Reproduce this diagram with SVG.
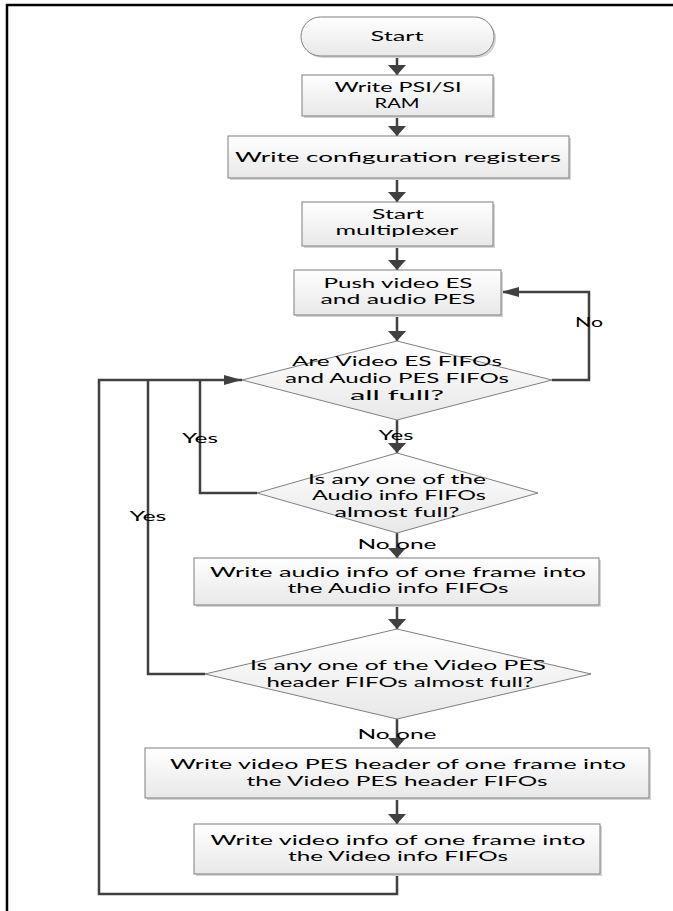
<svg xmlns="http://www.w3.org/2000/svg" width="673" height="911" viewBox="0 0 673 911">
  <defs>
    <linearGradient id="fillGrad" x1="0" y1="0" x2="0" y2="1">
      <stop offset="0" stop-color="#ffffff"/>
      <stop offset="1" stop-color="#e8e8e8"/>
    </linearGradient>
    <!-- arrowhead for vertical runs: short along the line, wide across it -->
    <marker id="arrowV" viewBox="0 0 10 18" refX="10" refY="9" markerWidth="10" markerHeight="18" markerUnits="userSpaceOnUse" orient="auto">
      <path d="M0,0 L10,9 L0,18 Z" fill="#404040"/>
    </marker>
    <!-- arrowhead for horizontal runs: long along the line, narrow across it -->
    <marker id="arrowH" viewBox="0 0 18 10" refX="18" refY="5" markerWidth="18" markerHeight="10" markerUnits="userSpaceOnUse" orient="auto">
      <path d="M0,0 L18,5 L0,10 Z" fill="#404040"/>
    </marker>
  </defs>
  <style>
    .frame { fill: none; stroke: #000000; stroke-width: 2.5; }
    .shape { fill: url(#fillGrad); stroke: #7f7f7f; stroke-width: 1; }
    .shadow { fill: #d4d4d4; stroke: none; }
    .flow { fill: none; stroke: #404040; stroke-width: 2.5; }
    .arrV { marker-end: url(#arrowV); }
    .arrH { marker-end: url(#arrowH); }
    text { font-family: Lato, "Liberation Sans", Arial, sans-serif; font-size: 14px; fill: #000000; text-anchor: middle; }
  </style>

  <rect width="673" height="911" fill="#ffffff"/>
  <!-- page frame (top and left edges visible) -->
  <path class="frame" d="M7,911 V5 H673"/>

  <!-- connectors -->
  <g id="connectors">
    <line class="flow arrV" x1="397" y1="56" x2="397" y2="75"/>
    <line class="flow arrV" x1="397" y1="116" x2="397" y2="136"/>
    <line class="flow arrV" x1="397" y1="178" x2="397" y2="202"/>
    <line class="flow arrV" x1="397" y1="246" x2="397" y2="270"/>
    <line class="flow arrV" x1="397" y1="315" x2="397" y2="341"/>
    <line class="flow arrV" x1="397" y1="420" x2="397" y2="453"/>
    <line class="flow arrV" x1="397" y1="533" x2="397" y2="558"/>
    <line class="flow arrV" x1="397" y1="605" x2="397" y2="629"/>
    <line class="flow arrV" x1="397" y1="719" x2="397" y2="748"/>
    <line class="flow arrV" x1="397" y1="798" x2="397" y2="824"/>
    <!-- "No" loop back to the push step -->
    <path class="flow arrH" d="M552,380 H589 V292 H501"/>
    <!-- return paths to the first decision -->
    <path class="flow" d="M257,493 H200 V380"/>
    <path class="flow" d="M205,674 H148 V380"/>
    <path class="flow arrH" d="M397,874 V894 H99 V380 H242"/>
    <!-- branch labels -->
    <text x="396" y="440" textLength="35" lengthAdjust="spacingAndGlyphs">Yes</text>
    <text x="200" y="443" textLength="36" lengthAdjust="spacingAndGlyphs">Yes</text>
    <text x="148" y="521" textLength="37" lengthAdjust="spacingAndGlyphs">Yes</text>
    <text x="589" y="327" textLength="28" lengthAdjust="spacingAndGlyphs">No</text>
    <text x="397" y="549" textLength="79" lengthAdjust="spacingAndGlyphs">No one</text>
    <text x="397" y="739" textLength="79" lengthAdjust="spacingAndGlyphs">No one</text>
  </g>

  <g id="start">
    <rect class="shadow" x="303" y="19" width="193" height="39" rx="19.5"/>
    <rect class="shape" x="301" y="17" width="193" height="39" rx="19.5"/>
    <text x="397" y="41" textLength="53" lengthAdjust="spacingAndGlyphs">Start</text>
  </g>

  <g id="write-psi-si">
    <rect class="shadow" x="304" y="77" width="191" height="41"/>
    <rect class="shape" x="302" y="75" width="191" height="41"/>
    <text x="398" y="92" textLength="127" lengthAdjust="spacingAndGlyphs">Write PSI/SI</text>
    <text x="397" y="108" textLength="45" lengthAdjust="spacingAndGlyphs">RAM</text>
  </g>

  <g id="write-config">
    <rect class="shadow" x="230" y="138" width="341" height="42"/>
    <rect class="shape" x="228" y="136" width="341" height="42"/>
    <text x="398" y="162" textLength="326" lengthAdjust="spacingAndGlyphs">Write configuration registers</text>
  </g>

  <g id="start-mux">
    <rect class="shadow" x="304" y="204" width="191" height="44"/>
    <rect class="shape" x="302" y="202" width="191" height="44"/>
    <text x="398" y="219" textLength="52" lengthAdjust="spacingAndGlyphs">Start</text>
    <text x="397" y="235" textLength="123" lengthAdjust="spacingAndGlyphs">multiplexer</text>
  </g>

  <g id="push-es">
    <rect class="shadow" x="296" y="272" width="207" height="45"/>
    <rect class="shape" x="294" y="270" width="207" height="45"/>
    <text x="398" y="288" textLength="149" lengthAdjust="spacingAndGlyphs">Push video ES</text>
    <text x="398" y="304" textLength="155" lengthAdjust="spacingAndGlyphs">and audio PES</text>
  </g>

  <g id="check-es-fifos">
    <polygon class="shape" points="397,341 552,380 397,420 242,380"/>
    <text x="397" y="366" textLength="210" lengthAdjust="spacingAndGlyphs">Are Video ES FIFOs</text>
    <text x="397" y="383" textLength="224" lengthAdjust="spacingAndGlyphs">and Audio PES FIFOs</text>
    <text x="397" y="400" textLength="94" lengthAdjust="spacingAndGlyphs">all full?</text>
  </g>

  <g id="check-audio-info">
    <polygon class="shape" points="397,453 538,493 397,533 257,493"/>
    <text x="397" y="484" textLength="178" lengthAdjust="spacingAndGlyphs">Is any one of the</text>
    <text x="399" y="500" textLength="174" lengthAdjust="spacingAndGlyphs">Audio info FIFOs</text>
    <text x="397" y="517" textLength="125" lengthAdjust="spacingAndGlyphs">almost full?</text>
  </g>

  <g id="write-audio-info">
    <rect class="shadow" x="196" y="560" width="405" height="47"/>
    <rect class="shape" x="194" y="558" width="405" height="47"/>
    <text x="398" y="577" textLength="376" lengthAdjust="spacingAndGlyphs">Write audio info of one frame into</text>
    <text x="398" y="593" textLength="221" lengthAdjust="spacingAndGlyphs">the Audio info FIFOs</text>
  </g>

  <g id="check-pes-header">
    <polygon class="shape" points="397,629 591,674 397,719 205,674"/>
    <text x="398" y="670" textLength="296" lengthAdjust="spacingAndGlyphs">Is any one of the Video PES</text>
    <text x="400" y="687" textLength="267" lengthAdjust="spacingAndGlyphs">header FIFOs almost full?</text>
  </g>

  <g id="write-pes-header">
    <rect class="shadow" x="147" y="750" width="504" height="50"/>
    <rect class="shape" x="145" y="748" width="504" height="50"/>
    <text x="398" y="769" textLength="456" lengthAdjust="spacingAndGlyphs">Write video PES header of one frame into</text>
    <text x="397" y="786" textLength="301" lengthAdjust="spacingAndGlyphs">the Video PES header FIFOs</text>
  </g>

  <g id="write-video-info">
    <rect class="shadow" x="196" y="826" width="406" height="50"/>
    <rect class="shape" x="194" y="824" width="406" height="50"/>
    <text x="398" y="845" textLength="375" lengthAdjust="spacingAndGlyphs">Write video info of one frame into</text>
    <text x="398" y="861" textLength="220" lengthAdjust="spacingAndGlyphs">the Video info FIFOs</text>
  </g>
</svg>
